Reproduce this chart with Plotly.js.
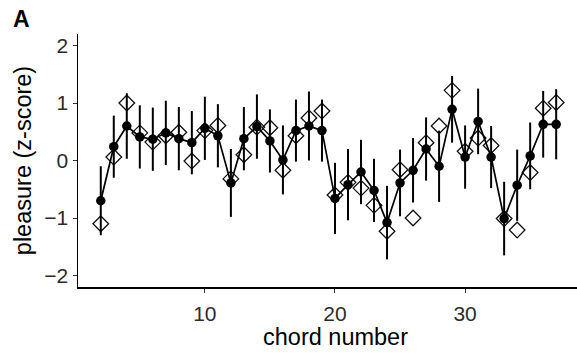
<!DOCTYPE html>
<html>
<head>
<meta charset="utf-8">
<script src="https://cdn.plot.ly/plotly-3.0.1.min.js"></script>
<style>
html,body{margin:0;padding:0;background:#fff;}
#chart{width:577px;height:356px;}
</style>
</head>
<body>
<div id="chart"></div>
<script>
const chords = [2,3,4,5,6,7,8,9,10,11,12,13,14,15,16,17,18,19,20,21,22,23,24,25,26,27,28,29,30,31,32,33,34,35,36,37];
const meanPleasure = [-0.70,0.24,0.60,0.41,0.37,0.48,0.38,0.31,0.56,0.43,-0.39,0.38,0.59,0.34,0.01,0.52,0.60,0.52,-0.66,-0.42,-0.20,-0.52,-1.08,-0.39,-0.17,0.20,-0.10,0.89,0.06,0.68,0.06,-1.01,-0.43,0.08,0.63,0.63];
const errPleasure = [0.60,0.54,0.57,0.55,0.55,0.56,0.55,0.55,0.55,0.55,0.59,0.55,0.56,0.55,0.60,0.54,0.60,0.54,0.62,0.62,0.56,0.55,0.64,0.58,0.56,0.55,0.62,0.58,0.55,0.57,0.54,0.64,0.62,0.58,0.58,0.61];
const modelPleasure = [-1.10,0.06,1.00,0.48,0.32,0.43,0.49,-0.01,0.52,0.61,-0.32,0.10,0.58,0.57,-0.17,0.43,0.74,0.86,-0.60,-0.38,-0.48,-0.78,-1.23,-0.16,-1.00,0.31,0.60,1.22,0.16,0.39,0.26,-1.01,-1.21,-0.21,0.91,1.01];
const yTicks = [-2,-1,0,1,2];
const xTicks = [10,20,30];

const traces = [
  {
    x: chords, y: modelPleasure, type: 'scatter', mode: 'markers',
    marker: {symbol: 'diamond-open', size: 12, color: '#111', line: {width: 1.3, color: '#111'}},
    hoverinfo: 'skip', showlegend: false
  },
  {
    x: chords, y: meanPleasure, type: 'scatter', mode: 'lines+markers',
    line: {color: '#000', width: 1.7},
    marker: {symbol: 'circle', size: 9.5, color: '#000'},
    error_y: {type: 'data', array: errPleasure, visible: true, color: '#000', thickness: 2, width: 0},
    showlegend: false
  }
];

const layout = {
  width: 577, height: 356,
  margin: {l: 78, r: 0, t: 34, b: 69},
  paper_bgcolor: '#fff', plot_bgcolor: '#fff',
  font: {family: 'Liberation Sans, Arial, sans-serif', color: '#000'},
  showlegend: false,
  xaxis: {
    range: [0.25, 38.6], tickvals: xTicks, ticktext: xTicks.map(String),
    showgrid: false, zeroline: false, showline: true, linecolor: '#000', linewidth: 1.5,
    ticks: 'outside', ticklen: 4, tickwidth: 1, tickcolor: '#333',
    ticklabelstandoff: 3,
    tickfont: {size: 21, color: '#2b2b2b'}
  },
  yaxis: {
    range: [-2.2, 2.2], tickvals: yTicks, ticktext: yTicks.map(v => v < 0 ? '\u2212' + Math.abs(v) : String(v)),
    showgrid: false, zeroline: false, showline: true, linecolor: '#000', linewidth: 1.5,
    ticks: 'outside', ticklen: 4, tickwidth: 1, tickcolor: '#333',
    tickfont: {size: 21, color: '#2b2b2b'},
    title: {text: 'pleasure (z-score)', font: {size: 23.5, color: '#000'}, standoff: 6}
  },
  annotations: [
    {text: '<b>A</b>', xref: 'paper', yref: 'paper', x: -0.134, y: 1.0, xanchor: 'left', yanchor: 'bottom',
     yshift: 0, showarrow: false, font: {size: 23, color: '#000'}},
    {text: 'chord number', xref: 'paper', yref: 'paper', x: 0.516, y: 0, xanchor: 'center', yanchor: 'middle',
     yshift: -50, showarrow: false, font: {size: 23.5, color: '#000'}}
  ]
};

Plotly.newPlot('chart', traces, layout, {displayModeBar: false, staticPlot: true});
</script>
</body>
</html>
